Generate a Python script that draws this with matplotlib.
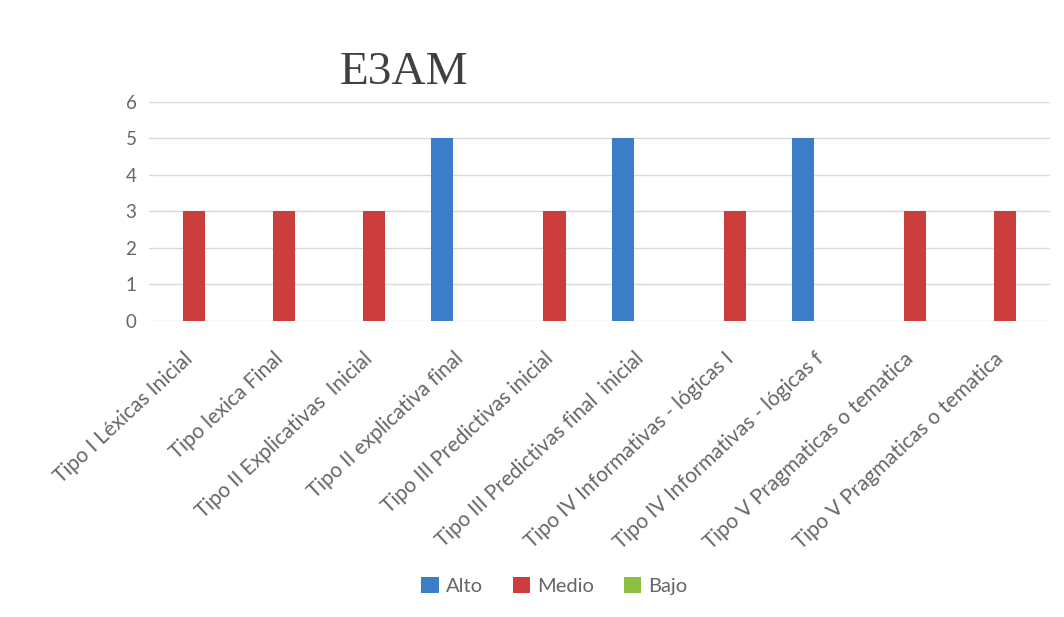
import matplotlib
matplotlib.use("Agg")
import matplotlib.pyplot as plt
import matplotlib.transforms as mtransforms
import numpy as np

categories = [
    "Tipo I Léxicas Inicial",
    "Tipo lexica Final",
    "Tipo II Explicativas  Inicial",
    "Tipo II explicativa final",
    "Tipo III Predictivas inicial",
    "Tipo III Predictivas final  inicial",
    "Tipo IV Informativas - lógicas I",
    "Tipo IV Informativas - lógicas f",
    "Tipo V Pragmaticas o tematica",
    "Tipo V Pragmaticas o tematica",
]
alto = [0, 0, 0, 5, 0, 5, 0, 5, 0, 0]
medio = [3, 3, 3, 0, 3, 0, 3, 0, 3, 3]
bajo = [0, 0, 0, 0, 0, 0, 0, 0, 0, 0]
series_names = ["Alto", "Medio", "Bajo"]
colors = ["#3b7dc8", "#cc3d3d", "#8cbf3f"]
yticks = [0, 1, 2, 3, 4, 5, 6]

plt.rcParams["font.family"] = ["Lato", "DejaVu Sans"]

fig = plt.figure(figsize=(10.64, 6.17), dpi=100)
ax = fig.add_axes([0.140, 0.480, 0.847, 0.355])

x = np.arange(len(categories))
w = 0.245
for i, (vals, name, c) in enumerate(zip([alto, medio, bajo], series_names, colors)):
    ax.bar(x + (i - 1) * w, vals, width=w, color=c, label=name, zorder=3)

ax.set_xlim(-0.5, len(categories) - 0.5)
ax.set_ylim(0, 6)
ax.set_yticks(yticks)
ax.set_yticklabels([str(t) for t in yticks], fontsize=13.5, color="#666666")
ax.yaxis.grid(True, color="#d9d9d9", linewidth=1, zorder=0)
ax.set_axisbelow(True)
for s in ax.spines.values():
    s.set_visible(False)
ax.tick_params(axis="both", length=0)
ax.tick_params(axis="y", pad=9)

ax.set_xticks(x)
ax.set_xticklabels(categories, rotation=43, ha="right", va="top",
                   rotation_mode="anchor", fontsize=15, color="#666666")
ax.tick_params(axis="x", pad=20)
shift = mtransforms.ScaledTranslation(-11 / 100, 0, fig.dpi_scale_trans)
for lbl in ax.get_xticklabels():
    lbl.set_transform(lbl.get_transform() + shift)

fig.text(0.380, 0.882, "E3AM", family="Liberation Serif", fontsize=34,
         color="#404040", ha="center", va="center")

leg = fig.legend(loc="center", bbox_to_anchor=(0.521, 0.051), ncol=3,
                 frameon=False, fontsize=14.5, handlelength=0.85, handleheight=0.85,
                 handletextpad=0.35, columnspacing=1.5)
for t in leg.get_texts():
    t.set_color("#666666")

fig.savefig("out.png", dpi=100, facecolor="white")
